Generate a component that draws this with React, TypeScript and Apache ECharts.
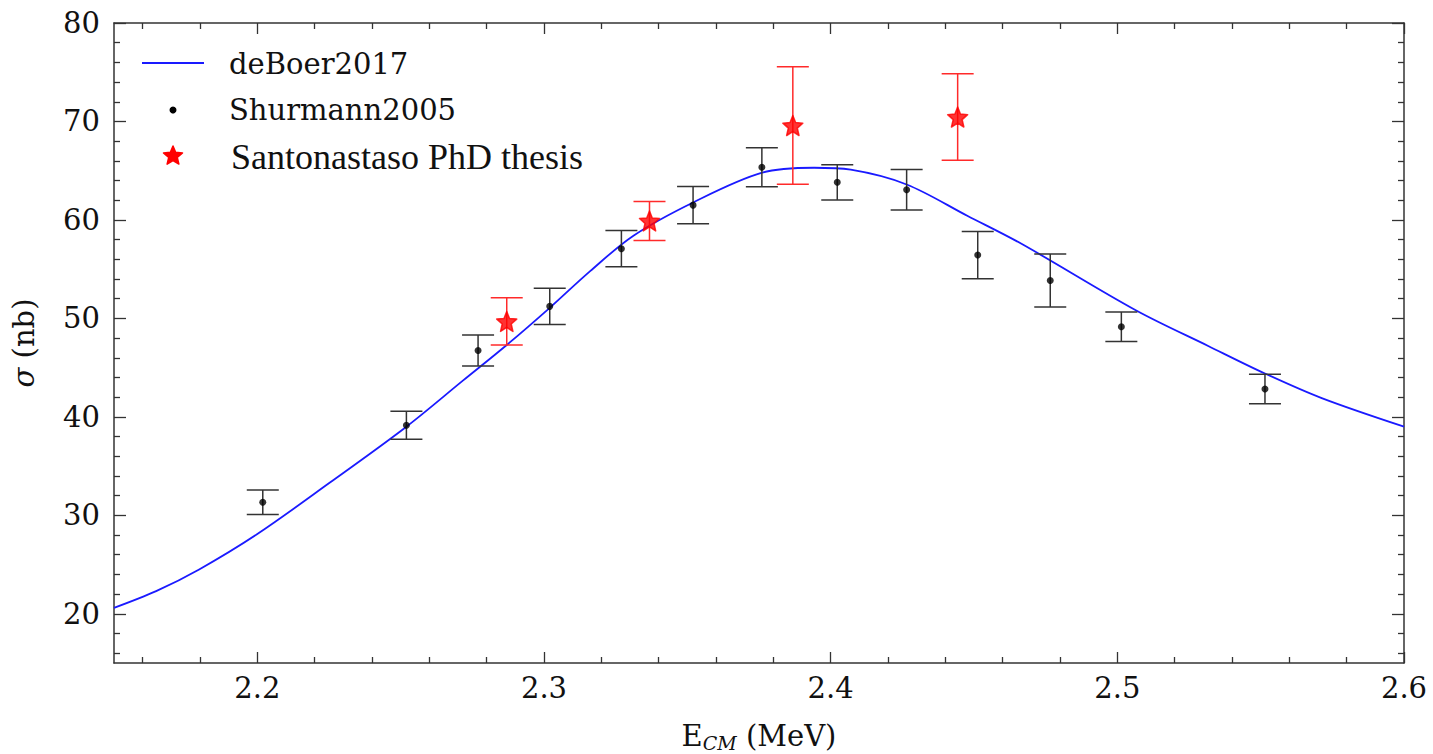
import React, { useEffect, useRef } from 'react';
import * as echarts from 'echarts';

// deBoer2017 curve (sampled from the figure)
const curveX = [2.15, 2.1647, 2.1797, 2.2, 2.2252, 2.252, 2.2718, 2.287, 2.3021, 2.3161, 2.3312, 2.3522, 2.3761, 2.3942, 2.407, 2.4265, 2.4478, 2.4664, 2.5066, 2.5317, 2.5515, 2.5713, 2.6];
const curveY = [20.6, 22.3, 24.5, 28.1, 33.3, 39.0, 43.7, 47.3, 51.1, 54.8, 58.4, 61.8, 64.8, 65.3, 65.1, 63.6, 60.4, 57.6, 50.8, 47.2, 44.4, 41.9, 39.0];

// Shurmann2005
const shurX = [2.2019, 2.252, 2.277, 2.302, 2.327, 2.352, 2.376, 2.4023, 2.4265, 2.4513, 2.4766, 2.5014, 2.5515];
const shurY = [31.33, 39.15, 46.73, 51.22, 57.08, 61.5, 65.35, 63.82, 63.06, 56.43, 53.85, 49.15, 42.83];
const shurErr = [1.24, 1.43, 1.57, 1.83, 1.84, 1.9, 1.97, 1.79, 2.05, 2.4, 2.69, 1.5, 1.5];

// Santonastaso PhD thesis
const santX = [2.287, 2.3368, 2.3868, 2.4443];
const santY = [49.69, 59.9, 69.59, 70.45];
const santErr = [2.4, 1.98, 5.97, 4.4];

// axis ticks
const xMajor = [2.2, 2.3, 2.4, 2.5, 2.6];
const xMinor = [2.16, 2.18, 2.22, 2.24, 2.26, 2.28, 2.32, 2.34, 2.36, 2.38, 2.42, 2.44, 2.46, 2.48, 2.52, 2.54, 2.56, 2.58];
const yMajor = [20, 30, 40, 50, 60, 70, 80];
const yMinor = [16, 18, 22, 24, 26, 28, 32, 34, 36, 38, 42, 44, 46, 48, 52, 54, 56, 58, 62, 64, 66, 68, 72, 74, 76, 78];

const X_MIN = 2.15, X_MAX = 2.6, Y_MIN = 15, Y_MAX = 80;

const legendLabels = ['deBoer2017', 'Shurmann2005', 'Santonastaso PhD thesis'];

function starPoints(cx: number, cy: number, r: number, inner: number): number[][] {
  const pts: number[][] = [];
  for (let i = 0; i < 10; i++) {
    const a = -Math.PI / 2 + (i * Math.PI) / 5;
    const rr = i % 2 === 0 ? r : r * inner;
    pts.push([cx + rr * Math.cos(a), cy + rr * Math.sin(a)]);
  }
  return pts;
}

function starSymbol(): string {
  const pts = starPoints(50, 50, 50, 0.45);
  return 'path://M' + pts.map((p) => p[0].toFixed(2) + ',' + p[1].toFixed(2)).join('L') + 'Z';
}

const SERIF = "'DejaVu Serif', serif";
const TIMES = "'Liberation Serif', 'Times New Roman', serif";
const AXIS_COLOR = '#333';
const TEXT_COLOR = '#111';

function errSeries(xs: number[], ys: number[], es: number[], color: string, z: number) {
  return {
    type: 'custom',
    xAxisIndex: 0,
    yAxisIndex: 0,
    z,
    silent: true,
    encode: { x: 0, y: [1, 2] },
    data: xs.map((x, i) => [x, ys[i] - es[i], ys[i] + es[i]]),
    renderItem: (params: any, api: any) => {
      const x = api.value(0);
      const lo = api.coord([x, api.value(1)]);
      const hi = api.coord([x, api.value(2)]);
      const w = 16;
      const style = { stroke: color, lineWidth: 1.5, fill: null };
      return {
        type: 'group',
        children: [
          { type: 'line', shape: { x1: lo[0], y1: lo[1], x2: hi[0], y2: hi[1] }, style },
          { type: 'line', shape: { x1: lo[0] - w, y1: lo[1], x2: lo[0] + w, y2: lo[1] }, style },
          { type: 'line', shape: { x1: hi[0] - w, y1: hi[1], x2: hi[0] + w, y2: hi[1] }, style },
        ],
      };
    },
  };
}

function tickAxis(kind: 'x' | 'y', position: string, major: boolean, withLabels: boolean, extra: any = {}) {
  const len = major ? (kind === 'x' ? 11 : 12) : 6;
  const vals = major ? (kind === 'x' ? xMajor : yMajor) : (kind === 'x' ? xMinor : yMinor);
  return {
    type: 'value',
    position,
    min: kind === 'x' ? X_MIN : Y_MIN,
    max: kind === 'x' ? X_MAX : Y_MAX,
    axisLine: { show: major, onZero: false, lineStyle: { color: AXIS_COLOR, width: 1.5 } },
    axisTick: { show: true, inside: true, length: len, customValues: vals, lineStyle: { color: AXIS_COLOR, width: 1.3 } },
    axisLabel: withLabels
      ? {
          show: true,
          customValues: vals,
          formatter: (v: number) => (kind === 'x' ? v.toFixed(1) : String(Math.round(v))),
          fontSize: 29,
          fontFamily: SERIF,
          color: TEXT_COLOR,
          margin: kind === 'x' ? 10 : 14,
        }
      : { show: false },
    splitLine: { show: false },
    minorTick: { show: false },
    ...extra,
  };
}

export default function App() {
  const ref = useRef<HTMLDivElement>(null);

  useEffect(() => {
    document.body.style.margin = '0';
    if (!ref.current) return;
    const chart = echarts.init(ref.current, null, { renderer: 'svg' });
    const star = starSymbol();

    const option: any = {
      animation: false,
      backgroundColor: '#fff',
      grid: { left: 114, right: 29, top: 23, bottom: 91, containLabel: false, outerBoundsMode: 'none' },
      xAxis: [
        tickAxis('x', 'bottom', true, true, {
          name: 'E{s|CM} (MeV)',
          nameLocation: 'middle',
          nameGap: 56,
          nameTextStyle: {
            fontSize: 29,
            fontFamily: SERIF,
            color: TEXT_COLOR,
            rich: {
              s: { fontSize: 19, fontStyle: 'italic', fontFamily: SERIF, color: TEXT_COLOR, verticalAlign: 'bottom', padding: [14, 0, 0, 0] },
            },
          },
        }),
        tickAxis('x', 'bottom', false, false),
        tickAxis('x', 'top', true, false),
        tickAxis('x', 'top', false, false),
      ],
      yAxis: [
        tickAxis('y', 'left', true, true, {
          name: '{i|σ} (nb)',
          nameLocation: 'middle',
          nameGap: 76,
          nameTextStyle: {
            fontSize: 29,
            fontFamily: SERIF,
            color: TEXT_COLOR,
            rich: { i: { fontSize: 29, fontStyle: 'italic', fontFamily: SERIF, color: TEXT_COLOR } },
          },
        }),
        tickAxis('y', 'left', false, false),
        tickAxis('y', 'right', true, false),
        tickAxis('y', 'right', false, false),
      ],
      series: [
        {
          name: legendLabels[0],
          type: 'line',
          xAxisIndex: 0,
          yAxisIndex: 0,
          data: curveX.map((x, i) => [x, curveY[i]]),
          showSymbol: false,
          smooth: 0.33,
          lineStyle: { color: '#1a1aff', width: 1.8 },
          z: 2,
        },
        errSeries(shurX, shurY, shurErr, '#333', 3),
        {
          name: legendLabels[1],
          type: 'scatter',
          xAxisIndex: 0,
          yAxisIndex: 0,
          data: shurX.map((x, i) => [x, shurY[i]]),
          symbol: 'circle',
          symbolSize: 7,
          itemStyle: { color: '#000' },
          z: 4,
        },
        errSeries(santX, santY, santErr, '#ff2a2a', 5),
        {
          name: legendLabels[2],
          type: 'scatter',
          xAxisIndex: 0,
          yAxisIndex: 0,
          data: santX.map((x, i) => [x, santY[i]]),
          symbol: star,
          symbolSize: 20,
          itemStyle: { color: '#ff0000', borderColor: '#ff0000', borderWidth: 1.5, borderJoin: 'round' },
          z: 6,
        },
      ],
      graphic: [
        { type: 'line', shape: { x1: 142, y1: 63, x2: 204, y2: 63 }, style: { stroke: '#1a1aff', lineWidth: 1.8 }, z: 10 },
        { type: 'text', x: 229, y: 64, style: { text: legendLabels[0], fontSize: 29, fontFamily: SERIF, fill: TEXT_COLOR, align: 'left', verticalAlign: 'middle' }, z: 10 },
        { type: 'circle', shape: { cx: 173, cy: 110, r: 3.5 }, style: { fill: '#000' }, z: 10 },
        { type: 'text', x: 229, y: 110, style: { text: legendLabels[1], fontSize: 29, fontFamily: SERIF, fill: TEXT_COLOR, align: 'left', verticalAlign: 'middle' }, z: 10 },
        { type: 'polygon', shape: { points: starPoints(173, 156, 10, 0.45) }, style: { fill: '#ff0000', stroke: '#ff0000', lineWidth: 1.5, lineJoin: 'round' }, z: 10 },
        { type: 'text', x: 231, y: 157, style: { text: legendLabels[2], fontSize: 36, fontFamily: TIMES, fill: TEXT_COLOR, align: 'left', verticalAlign: 'middle' }, z: 10 },
      ],
    };

    chart.setOption(option);
    return () => chart.dispose();
  }, []);

  return <div ref={ref} style={{ position: 'absolute', left: 0, top: 0, width: 1433, height: 754 }} />;
}
